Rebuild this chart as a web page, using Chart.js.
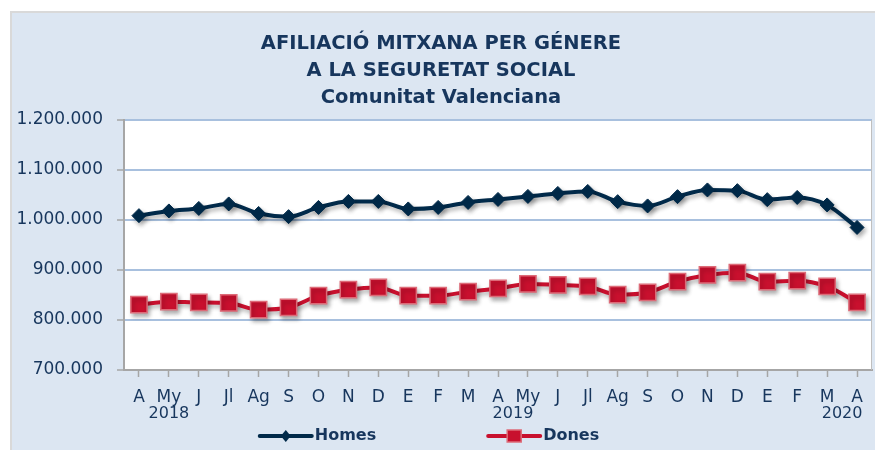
<!DOCTYPE html>
<html>
<head>
<meta charset="utf-8">
<script src="https://cdn.jsdelivr.net/npm/chart.js@4/dist/chart.umd.min.js"></script>
<style>
  html, body { margin: 0; padding: 0; background: #ffffff; }
  #wrap { width: 875px; height: 450px; }
</style>
</head>
<body>
<div id="wrap"><canvas id="myChart"></canvas></div>
<script>
// months Apr 2018 .. Apr 2020
const months = ['A', 'My', 'J', 'Jl', 'Ag', 'S', 'O', 'N', 'D', 'E', 'F', 'M',
                'A', 'My', 'J', 'Jl', 'Ag', 'S', 'O', 'N', 'D', 'E', 'F', 'M', 'A'];
const years = ['2018', '2019', '2020'];
const yearPos = [1, 12.5, 23.5];

const homes = [1008600, 1018000, 1023000, 1032000, 1013000, 1006600, 1025000, 1037000, 1037000,
               1022000, 1025000, 1035000, 1041000, 1047000, 1053000, 1057000, 1036600, 1028000,
               1046600, 1060000, 1058600, 1040600, 1045000, 1030000, 985000];
const dones = [830600, 836600, 835000, 834000, 820600, 825000, 848600, 860600, 865000,
               848600, 848600, 856600, 863000, 872000, 870000, 867000, 850600, 855000,
               876600, 890000, 894600, 876600, 878600, 867000, 835000];

const titleLines = ['AFILIACIÓ MITXANA PER GÉNERE', 'A LA SEGURETAT SOCIAL', 'Comunitat Valenciana'];

const navy = '#012a4a';
const red = '#c8102e';
const textColor = '#17365d';
const font = "'DejaVu Sans', sans-serif";

function fmt(v) {
  return String(v).replace(/\B(?=(\d{3})+(?!\d))/g, '.');
}

// light blue frame + white plot area
const background = {
  id: 'background',
  beforeDraw(chart) {
    const c = chart.ctx;
    const a = chart.chartArea;
    c.save();
    c.fillStyle = '#ffffff';
    c.fillRect(0, 0, chart.width, chart.height);
    c.fillStyle = '#dce6f2';
    c.fillRect(10, 11, chart.width - 10, chart.height - 11);
    c.fillStyle = '#d9d9d9';
    c.fillRect(10, 11, chart.width - 10, 2);
    c.fillRect(10, 11, 2, chart.height - 11);
    c.fillStyle = '#ffffff';
    c.fillRect(a.left, a.top, a.right - a.left, a.bottom - a.top);
    c.restore();
  },
  afterDraw(chart) {
    const c = chart.ctx;
    const a = chart.chartArea;
    c.save();
    c.strokeStyle = '#bfbfbf';
    c.lineWidth = 1;
    c.beginPath();
    c.moveTo(a.right - 0.5, a.top);
    c.lineTo(a.right - 0.5, a.bottom);
    c.stroke();
    c.restore();
  }
};

// soft shadow under the lines
const shadow = {
  id: 'shadow',
  beforeDatasetDraw(chart) {
    const c = chart.ctx;
    c.save();
    c.shadowColor = 'rgba(0,0,0,0.3)';
    c.shadowBlur = 4;
    c.shadowOffsetX = 2;
    c.shadowOffsetY = 3;
  },
  afterDatasetDraw(chart) {
    chart.ctx.restore();
  }
};

// year labels under the month ticks
const yearLabels = {
  id: 'yearLabels',
  afterDraw(chart) {
    const c = chart.ctx;
    const x = chart.scales.x;
    c.save();
    c.font = '16px ' + font;
    c.fillStyle = textColor;
    c.textAlign = 'center';
    c.textBaseline = 'middle';
    years.forEach((y, i) => {
      c.fillText(y, x.getPixelForValue(yearPos[i]), 414);
    });
    c.restore();
  }
};

// legend with line + marker
const lineLegend = {
  id: 'lineLegend',
  afterDraw(chart) {
    const c = chart.ctx;
    const y = 436;
    const symW = 52;
    const gap = 112;
    c.save();
    c.font = 'bold 16px ' + font;
    c.textBaseline = 'middle';
    const items = chart.data.datasets.map(ds => ({
      label: ds.label, color: ds.borderColor, fill: ds.pointBackgroundColor,
      edge: ds.pointBorderColor, style: ds.pointStyle,
      w: symW + 3 + c.measureText(ds.label).width
    }));
    const total = items.reduce((s, it) => s + it.w, 0) + gap * (items.length - 1);
    let x = chart.width / 2 - 8 - total / 2;
    items.forEach(it => {
      c.strokeStyle = it.color;
      c.lineWidth = 4;
      c.lineCap = 'round';
      c.beginPath();
      c.moveTo(x, y);
      c.lineTo(x + symW, y);
      c.stroke();
      const cx = x + symW / 2;
      c.fillStyle = it.fill;
      c.beginPath();
      if (it.style === 'rectRot') {
        c.moveTo(cx - 5, y);
        c.lineTo(cx, y - 6);
        c.lineTo(cx + 5, y);
        c.lineTo(cx, y + 6);
        c.closePath();
        c.fill();
      } else {
        c.rect(cx - 7, y - 6, 14, 12);
        c.fill();
        c.strokeStyle = it.edge;
        c.lineWidth = 1.5;
        c.stroke();
      }
      c.fillStyle = textColor;
      c.textAlign = 'left';
      c.fillText(it.label, x + symW + 3, y);
      x += it.w + gap;
    });
    c.restore();
  }
};

const ctx = document.getElementById('myChart').getContext('2d');

new Chart(ctx, {
  type: 'line',
  data: {
    labels: months,
    datasets: [{
      label: 'Homes',
      data: homes,
      borderColor: navy,
      borderWidth: 4,
      pointStyle: 'rectRot',
      pointRadius: 7,
      pointBackgroundColor: navy,
      pointBorderColor: navy,
      pointBorderWidth: 1,
      cubicInterpolationMode: 'monotone',
      tension: 0.3
    }, {
      label: 'Dones',
      data: dones,
      borderColor: red,
      borderWidth: 4,
      pointStyle: 'rect',
      pointRadius: 11.5,
      pointBackgroundColor: red,
      pointBorderColor: '#dd6b78',
      pointBorderWidth: 1.5,
      cubicInterpolationMode: 'monotone',
      tension: 0.3
    }]
  },
  options: {
    responsive: true,
    maintainAspectRatio: false,
    animation: false,
    layout: {
      autoPadding: false,
      padding: { left: 10, right: 3, top: 0, bottom: 0 }
    },
    plugins: {
      legend: { display: false },
      tooltip: { enabled: false },
      title: {
        display: true,
        text: titleLines,
        color: textColor,
        font: { family: font, size: 19.5, weight: 'bold', lineHeight: 1.4 },
        padding: { top: 30, bottom: 8 }
      }
    },
    scales: {
      x: {
        offset: true,
        afterFit: (s) => { s.height = 80; },
        grid: {
          drawOnChartArea: false,
          drawTicks: true,
          tickLength: 7,
          tickColor: '#a6a6a6',
          tickWidth: 1.5
        },
        border: { color: '#a6a6a6', width: 2 },
        ticks: {
          color: textColor,
          font: { family: font, size: 17 },
          padding: 10,
          autoSkip: false,
          maxRotation: 0
        }
      },
      y: {
        min: 700000,
        max: 1200000,
        afterFit: (s) => { s.width = 114; },
        grid: {
          color: '#a8c0de',
          lineWidth: 2,
          tickLength: 7,
          tickColor: '#a6a6a6',
          tickWidth: 1.5
        },
        border: { color: '#a6a6a6', width: 2 },
        ticks: {
          stepSize: 100000,
          color: textColor,
          font: { family: font, size: 17 },
          padding: 14,
          callback: (v) => fmt(v)
        }
      }
    }
  },
  plugins: [background, shadow, yearLabels, lineLegend]
});
</script>
</body>
</html>
